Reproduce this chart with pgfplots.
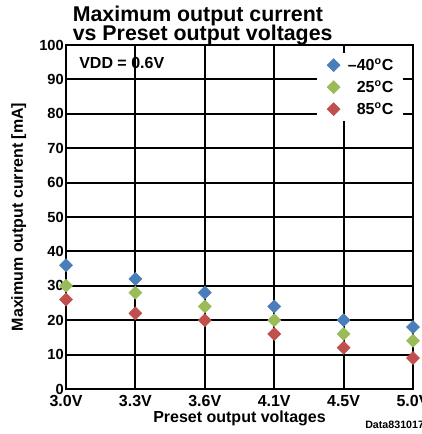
\documentclass[border=0pt]{standalone}
\usepackage{pgfplots}
\pgfplotsset{compat=1.18}
\usepackage{fontspec}
\setmainfont{Liberation Sans}
\definecolor{cblue}{HTML}{4A7EBB}
\definecolor{cgreen}{HTML}{9BBB59}
\definecolor{cred}{HTML}{C0504D}
\begin{document}
\begin{tikzpicture}
\begin{axis}[
  scale only axis, width=260.25pt, height=258pt,
  xmin=0, xmax=5, ymin=0, ymax=100,
  xtick={0,1,2,3,4,5},
  xticklabels={3.0V,3.3V,3.6V,4.1V,4.5V,5.0V},
  ytick={0,10,...,100},
  grid=major,
  major grid style={black, line width=1.6pt},
  axis line style={black, line width=1.8pt},
  major tick length=0pt,
  /pgf/number format/assume math mode=true,
  xticklabel style={font=\fontsize{12}{14}\selectfont\bfseries, anchor=base, yshift=-13.3pt},
  yticklabel style={font=\fontsize{11}{13}\selectfont\bfseries, inner sep=1.5pt},
  xlabel={Preset output voltages},
  ylabel={Maximum output current [mA]},
  label style={font=\fontsize{12}{14}\selectfont\bfseries},
  xlabel style={at={(rel axis cs:0.5,-0.0988)}, anchor=base},
  ylabel style={at={(rel axis cs:-0.124,0.5)}, anchor=base},
  clip=false,
  legend style={at={(rel axis cs:0.971,0.977)}, anchor=north east,
    draw=none, fill=white, font=\fontsize{12}{14}\selectfont\bfseries,
    row sep=0.5pt, inner xsep=5pt, inner ysep=1pt,
    nodes={text height=9pt, text depth=1pt, inner ysep=3pt}},
  legend cell align=right,
  legend image code/.code={\path (-7pt,0) (8.5pt,0); \draw[#1] plot coordinates {(0pt,0pt)};},
]
\addplot[only marks, mark=square*, mark size=3.45pt, color=cblue, mark options={rotate=45}]
  coordinates {(0,36) (1,32) (2,28) (3,24) (4,20) (5,18)};
\addlegendentry{–40\textsuperscript{o}C}
\addplot[only marks, mark=square*, mark size=3.45pt, color=cgreen, mark options={rotate=45}]
  coordinates {(0,30) (1,28) (2,24) (3,20) (4,16) (5,14)};
\addlegendentry{25\textsuperscript{o}C}
\addplot[only marks, mark=square*, mark size=3.45pt, color=cred, mark options={rotate=45}]
  coordinates {(0,26) (1,22) (2,20) (3,16) (4,12) (5,9)};
\addlegendentry{85\textsuperscript{o}C}
\node[anchor=base west, inner sep=0pt, font=\fontsize{12}{14}\selectfont\bfseries]
  at (rel axis cs:0.0375,0.933) {VDD = 0.6V};
\node[anchor=base west, inner sep=0pt, font=\fontsize{16}{16}\selectfont\bfseries]
  at (rel axis cs:0.019,1.0677) {Maximum output current};
\node[anchor=base west, inner sep=0pt, font=\fontsize{16}{16}\selectfont\bfseries]
  at (rel axis cs:0.019,1.0125) {vs Preset output voltages};
\node[anchor=base west, inner sep=0pt, font=\fontsize{8}{9}\selectfont\bfseries]
  at (rel axis cs:0.8617,-0.1134) {Data831017};
\coordinate (bbl) at (rel axis cs:-0.1902,-0.1308);
\coordinate (btr) at (rel axis cs:1.0259,1.1308);
\end{axis}
\pgfresetboundingbox
\path (bbl) rectangle (btr);
\end{tikzpicture}
\end{document}
